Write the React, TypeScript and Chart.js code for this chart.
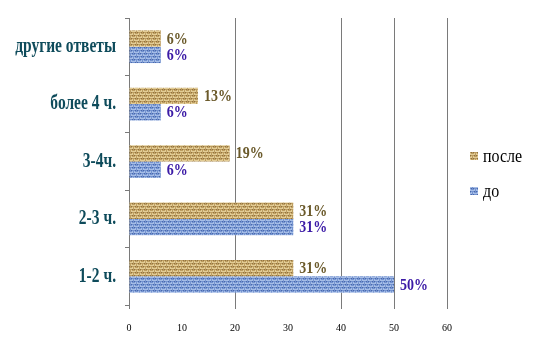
import React, { useEffect, useRef } from "react";
import { Chart, registerables } from "chart.js";
Chart.register(...registerables);

const categories = ["другие ответы", "более 4 ч.", "3-4ч.", "2-3 ч.", "1-2 ч."];
const afterValues = [6, 13, 19, 31, 31];
const beforeValues = [6, 6, 6, 31, 50];
const seriesNames = ["после", "до"];
const xMin = 0;
const xMax = 60;
const xStep = 10;
const visibleGridValues = [0, 20, 40, 50, 60];

const labelColors = ["#6b5a2b", "#3b1aa6"];
const categoryColor = "#0e4b5b";
const axisGray = "#7a7a7a";

function makePattern(ctx: CanvasRenderingContext2D, light: string, mid: string, dark: string) {
  const tile = document.createElement("canvas");
  tile.width = 12;
  tile.height = 12;
  const t = tile.getContext("2d")!;
  for (let y = 0; y < 12; y++) {
    for (let x = 0; x < 12; x++) {
      const block = (Math.floor(x / 3) + Math.floor(y / 3)) % 2;
      let c;
      if (block === 0) c = y % 3 === 1 ? light : mid;
      else c = x % 3 === 1 ? mid : y % 3 === 2 ? dark : light;
      t.fillStyle = c;
      t.fillRect(x, y, 1, 1);
    }
  }
  return ctx.createPattern(tile, "repeat")!;
}

export default function App() {
  const ref = useRef<HTMLCanvasElement | null>(null);
  useEffect(() => {
    const canvas = ref.current!;
    const ctx = canvas.getContext("2d")!;
    const tan = makePattern(ctx, "#e2cc96", "#bd9d60", "#8f7140");
    const blue = makePattern(ctx, "#a6bde6", "#7393d0", "#4a68ab");
    const fills = [tan, blue];

    const labelPlugin = {
      id: "valueLabels",
      afterDatasetsDraw(chart: any) {
        const c = chart.ctx;
        c.save();
        c.font = "bold 14px 'Liberation Serif'";
        c.textBaseline = "middle";
        c.textAlign = "left";
        chart.data.datasets.forEach((ds: any, di: number) => {
          const meta = chart.getDatasetMeta(di);
          meta.data.forEach((bar: any, i: number) => {
            c.fillStyle = labelColors[di];
            c.save();
            c.translate(bar.x + 6, bar.y + 1);
            c.scale(1, 1.12);
            c.fillText(ds.data[i] + "%", 0, 0);
            c.restore();
          });
        });
        c.restore();
      },
    };

    const categoryLabelPlugin = {
      id: "categoryLabels",
      afterDraw(chart: any) {
        const c = chart.ctx;
        const yScale = chart.scales.y;
        const xRight = chart.chartArea.left - 13;
        c.save();
        c.font = "bold 15.5px 'Liberation Serif'";
        c.textBaseline = "middle";
        c.textAlign = "right";
        c.fillStyle = categoryColor;
        chart.data.labels.forEach((lab: string, i: number) => {
          const y = yScale.getPixelForTick(i);
          c.save();
          c.translate(xRight, y);
          c.scale(1, 1.3);
          c.fillText(lab, 0, 0);
          c.restore();
        });
        c.restore();
      },
    };

    const legendPlugin = {
      id: "customLegend",
      afterDraw(chart: any) {
        const c = chart.ctx;
        const x = chart.chartArea.right + 23;
        const y0 = 156;
        c.save();
        c.font = "16px 'Liberation Serif'";
        c.textBaseline = "middle";
        c.textAlign = "left";
        seriesNames.forEach((name, i) => {
          const y = y0 + i * 35;
          c.fillStyle = fills[i];
          c.fillRect(x, y - 4, 8, 8);
          c.fillStyle = "#000";
          c.save();
          c.translate(x + 13, y + 1);
          c.scale(1, 1.15);
          c.fillText(name, 0, 0);
          c.restore();
        });
        c.restore();
      },
    };

    const chart = new Chart(canvas, {
      type: "bar",
      data: {
        labels: categories,
        datasets: [
          { label: seriesNames[0], data: afterValues, backgroundColor: tan as any, borderWidth: 0, categoryPercentage: 0.57, barPercentage: 1 },
          { label: seriesNames[1], data: beforeValues, backgroundColor: blue as any, borderWidth: 0, categoryPercentage: 0.57, barPercentage: 1 },
        ],
      },
      options: {
        indexAxis: "y",
        responsive: false,
        animation: false,
        layout: { padding: { top: 15, right: 89, left: 0, bottom: 0 } },
        plugins: { legend: { display: false }, tooltip: { enabled: false } },
        scales: {
          x: {
            min: xMin,
            max: xMax,
            ticks: { stepSize: xStep, color: "#000", font: { family: "Liberation Serif", size: 10 }, padding: 13 },
            grid: {
              color: (c: any) => (visibleGridValues.includes(c.tick?.value) ? axisGray : "rgba(0,0,0,0)"),
              tickLength: 4,
              lineWidth: 1,
            },
            border: { display: false },
            afterFit: (s: any) => { s.height = 45; },
          },
          y: {
            ticks: { color: "rgba(0,0,0,0)", font: { family: "Liberation Serif", size: 15, weight: "bold" }, padding: 9 },
            grid: { drawOnChartArea: false, tickLength: 4, color: axisGray },
            border: { display: true, color: axisGray, width: 1 },
            afterFit: (s: any) => { s.width = 129; },
          },
        },
      },
      plugins: [labelPlugin, categoryLabelPlugin, legendPlugin],
    } as any);
    return () => chart.destroy();
  }, []);
  return (
    <div style={{ position: "absolute", left: 0, top: 0, width: 536, height: 350, background: "#fff" }}>
      <canvas ref={ref} width={536} height={350} style={{ display: "block" }} />
    </div>
  );
}
